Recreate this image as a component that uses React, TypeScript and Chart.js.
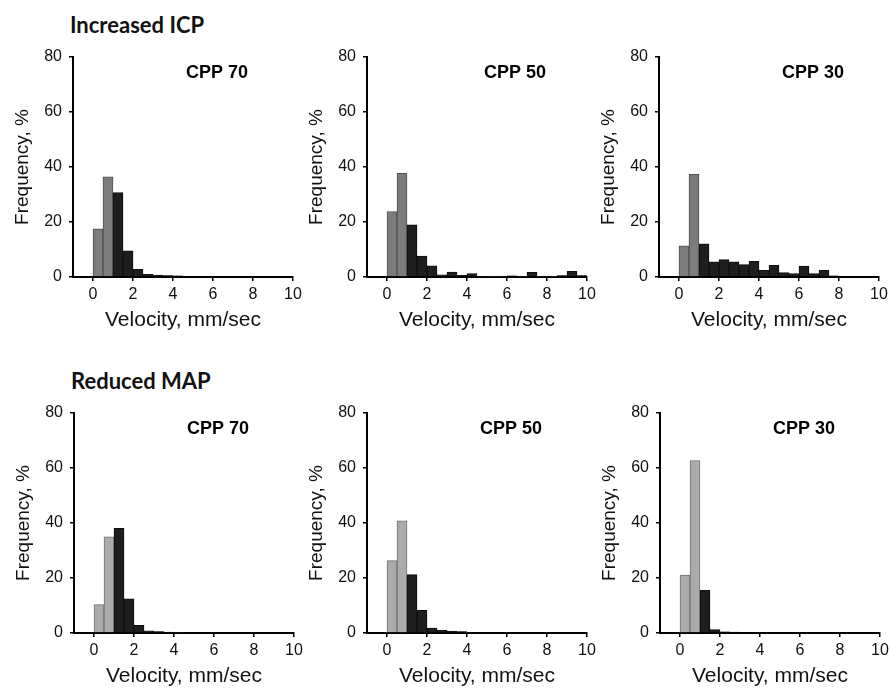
import React, { useEffect, useRef } from 'react';
import { Chart, registerables } from 'chart.js';

Chart.register(...registerables);

// Histogram bin centres (bins of 0.5 mm/sec)
const BIN_CENTERS = [0.25, 0.75, 1.25, 1.75, 2.25, 2.75, 3.25, 3.75, 4.25, 4.75, 5.25, 5.75, 6.25, 6.75, 7.25, 7.75, 8.25, 8.75, 9.25, 9.75];
const X_TICKS = [0, 2, 4, 6, 8, 10];
const Y_TICKS = [0, 20, 40, 60, 80];

// Increased ICP
const ICP_CPP70 = [17.5, 36.4, 30.7, 9.5, 2.8, 1.0, 0.7, 0.5, 0.4, 0, 0, 0, 0, 0, 0, 0, 0, 0, 0, 0];
const ICP_CPP50 = [23.8, 37.7, 19.0, 7.6, 4.1, 0.8, 1.8, 0.6, 1.2, 0.2, 0.1, 0.1, 0.4, 0.2, 1.7, 0.2, 0.1, 0.5, 2.1, 0.5];
const ICP_CPP30 = [11.3, 37.3, 12.1, 5.5, 6.3, 5.5, 4.5, 5.7, 2.4, 4.2, 1.6, 1.2, 4.0, 1.2, 2.4, 0.4, 0, 0, 0, 0];

// Reduced MAP
const MAP_CPP70 = [10.3, 35.0, 38.1, 12.4, 2.8, 0.8, 0.5, 0.3, 0.2, 0, 0, 0, 0, 0, 0, 0, 0, 0, 0, 0];
const MAP_CPP50 = [26.3, 40.8, 21.2, 8.2, 1.8, 1.0, 0.7, 0.5, 0, 0, 0, 0, 0, 0, 0, 0, 0, 0, 0, 0];
const MAP_CPP30 = [21.1, 62.7, 15.5, 1.2, 0.4, 0.3, 0, 0, 0, 0, 0, 0, 0, 0, 0, 0, 0, 0, 0, 0];

const GROUP_TITLES = ['Increased ICP', 'Reduced MAP'];
const PANEL_LABELS = ['CPP 70', 'CPP 50', 'CPP 30'];
const X_TITLE = 'Velocity, mm/sec';
const Y_TITLE = 'Frequency, %';

const FONT = '"Liberation Sans", Arial, Helvetica, sans-serif';

const cppLabelPlugin = {
  id: 'cppLabel',
  afterDatasetsDraw(chart: any, _args: any, opts: any) {
    const { ctx, scales } = chart;
    ctx.save();
    ctx.font = `bold 18px ${FONT}`;
    ctx.fillStyle = '#000';
    ctx.textAlign = 'center';
    ctx.textBaseline = 'middle';
    ctx.fillText(opts.text, scales.x.getPixelForValue(opts.x), scales.y.getPixelForValue(opts.y));
    ctx.restore();
  },
};

type PanelProps = {
  values: number[];
  label: string;
  light: boolean;
  areaLeft: number;
  areaTop: number;
  labelX: number;
};

const Y_AXIS_W = 72;
const X_AXIS_H = 60;
const PAD_TOP = 22;
const PAD_RIGHT = 16;
const AREA_W = 220;
const AREA_H = 220;

function Panel({ values, label, light, areaLeft, areaTop, labelX }: PanelProps) {
  const ref = useRef<HTMLCanvasElement>(null);
  useEffect(() => {
    if (!ref.current) return;
    const grey = light ? '#ababab' : '#7c7c7c';
    const greyBorder = light ? '#707070' : '#4e4e4e';
    const dark = '#1e1e1e';
    const chart = new Chart(ref.current, {
      type: 'bar',
      data: {
        datasets: [
          {
            data: BIN_CENTERS.map((x, i) => ({ x, y: values[i] })),
            backgroundColor: BIN_CENTERS.map((x) => (x < 1 ? grey : dark)),
            borderColor: BIN_CENTERS.map((x) => (x < 1 ? greyBorder : '#0e0e0e')),
            borderWidth: 1,
            barPercentage: 1,
            categoryPercentage: 1,
          } as any,
        ],
      },
      options: {
        animation: false,
        responsive: false,
        devicePixelRatio: 1,
        layout: { padding: { top: PAD_TOP, right: PAD_RIGHT, left: 0, bottom: 0 } },
        plugins: {
          legend: { display: false },
          tooltip: { enabled: false },
          cppLabel: { text: label, x: labelX, y: 74 },
        } as any,
        scales: {
          x: {
            type: 'linear',
            min: -1,
            max: 10,
            offset: false,
            afterBuildTicks: (s: any) => {
              s.ticks = X_TICKS.map((v) => ({ value: v }));
            },
            afterFit: (s: any) => {
              s.height = X_AXIS_H;
            },
            grid: { display: true, offset: false, drawOnChartArea: false, drawTicks: true, tickLength: 4, color: '#000', lineWidth: 1.5 },
            border: { display: true, color: '#000', width: 2 },
            ticks: { color: '#111', font: { family: FONT, size: 16 }, padding: 4, maxRotation: 0, autoSkip: false },
            title: {
              display: true,
              text: X_TITLE,
              color: '#111',
              font: { family: FONT, size: 21 },
              padding: { top: 0, bottom: 4 },
            },
          },
          y: {
            type: 'linear',
            min: 0,
            max: 80,
            offset: false,
            afterBuildTicks: (s: any) => {
              s.ticks = Y_TICKS.map((v) => ({ value: v }));
            },
            afterFit: (s: any) => {
              s.width = Y_AXIS_W;
            },
            grid: { display: true, offset: false, drawOnChartArea: false, drawTicks: true, tickLength: 4, color: '#000', lineWidth: 1.5 },
            border: { display: true, color: '#000', width: 2 },
            ticks: { color: '#111', font: { family: FONT, size: 16 }, padding: 7 },
            title: {
              display: true,
              text: Y_TITLE,
              color: '#111',
              font: { family: FONT, size: 19 },
              padding: { top: 10, bottom: 0 },
            },
          },
        },
      } as any,
      plugins: [cppLabelPlugin],
    });
    return () => chart.destroy();
  }, [values, label, light, labelX]);

  const w = Y_AXIS_W + AREA_W + PAD_RIGHT;
  const h = PAD_TOP + AREA_H + X_AXIS_H;
  return (
    <canvas
      ref={ref}
      width={w}
      height={h}
      style={{ position: 'absolute', left: areaLeft - Y_AXIS_W, top: areaTop - PAD_TOP, width: w, height: h }}
    />
  );
}

const titleStyle: React.CSSProperties = {
  position: 'absolute',
  fontFamily: 'Lato, "Open Sans", sans-serif',
  fontWeight: 700,
  fontSize: 22,
  lineHeight: '22px',
  color: '#111',
  whiteSpace: 'nowrap',
};

export default function App() {
  return (
    <div style={{ position: 'absolute', left: 0, top: 0, width: 889, height: 692, background: '#fff', overflow: 'hidden' }}>
      <div style={{ ...titleStyle, left: 70, top: 14 }}>{GROUP_TITLES[0]}</div>
      <div style={{ ...titleStyle, left: 71, top: 370 }}>{GROUP_TITLES[1]}</div>

      <Panel values={ICP_CPP70} label={PANEL_LABELS[0]} light={false} areaLeft={73} areaTop={57} labelX={6.2} />
      <Panel values={ICP_CPP50} label={PANEL_LABELS[1]} light={false} areaLeft={367} areaTop={57} labelX={6.4} />
      <Panel values={ICP_CPP30} label={PANEL_LABELS[2]} light={false} areaLeft={659} areaTop={57} labelX={6.7} />

      <Panel values={MAP_CPP70} label={PANEL_LABELS[0]} light={true} areaLeft={74} areaTop={413} labelX={6.2} />
      <Panel values={MAP_CPP50} label={PANEL_LABELS[1]} light={true} areaLeft={367} areaTop={413} labelX={6.2} />
      <Panel values={MAP_CPP30} label={PANEL_LABELS[2]} light={true} areaLeft={660} areaTop={413} labelX={6.2} />
    </div>
  );
}
